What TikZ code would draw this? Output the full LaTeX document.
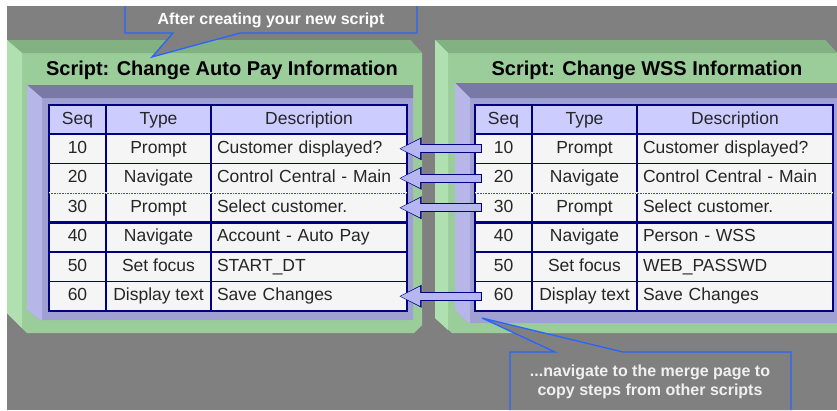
\documentclass[tikz,border=0pt]{standalone}
\usepackage{fontspec}
\setmainfont{Liberation Sans}
\usetikzlibrary{positioning,arrows.meta}

\definecolor{bggray}{RGB}{128,128,128}
\definecolor{greenface}{RGB}{155,205,155}
\definecolor{greenlight}{RGB}{176,224,176}
\definecolor{greendark}{RGB}{130,178,130}
\definecolor{purpleface}{RGB}{160,160,210}
\definecolor{purplelight}{RGB}{182,182,232}
\definecolor{purpledark}{RGB}{120,122,165}
\definecolor{headfill}{RGB}{204,204,255}
\definecolor{rowfill}{RGB}{245,245,245}
\definecolor{navy}{RGB}{0,0,128}
\definecolor{calloutblue}{RGB}{40,100,255}
\definecolor{arrowfill}{RGB}{182,182,240}

\begin{document}
\begin{tikzpicture}[x=1pt,y=-1pt,
  cell/.style={draw=navy,line width=1.4pt,fill=rowfill,inner sep=0pt,outer sep=0pt,
    minimum height=29.5pt,text height=12.5pt,text depth=3.5pt,text=black!85,
    font=\fontsize{17.5}{20}\selectfont},
  seq cell/.style={cell,minimum width=57pt},
  type cell/.style={cell,minimum width=105pt},
  desc cell/.style={cell,text width=184pt,inner xsep=6pt,align=left},
  head/.style={fill=headfill,minimum height=29pt},
  title/.style={font=\bfseries\fontsize{20}{24}\selectfont},
  callout/.style={fill=bggray,draw=calloutblue,line width=1.3pt},
  callout text/.style={font=\bfseries\fontsize{16}{19.5}\selectfont,align=center},
  copy arrow/.style={draw=arrowfill,line width=7pt,-{Triangle[length=20pt,width=18pt]},
    shorten <=0.8pt,shorten >=1.2pt,
    preaction={draw=navy,line width=8.6pt,shorten <=0pt,shorten >=0pt,
      -{Triangle[length=22.5pt,width=21pt]}}}]

  \useasboundingbox (0,0) rectangle (837,410);
  \fill[white] (0,0) rectangle (837,410);
  \fill[bggray] (7,6) rectangle (837,410);

  % left panel
  \fill[greenface] (7,40) -- (410,40) -- (422,53) -- (422,325) -- (414,333) -- (27,333) -- (7,313) -- cycle;
  \fill[greendark] (7,40) -- (410,40) -- (422,53) -- (22,53) -- cycle;
  \fill[greenlight] (7,40) -- (22,53) -- (22,328) -- (7,313) -- cycle;
  \fill[purpleface] (27,85) -- (413,85) -- (413,320) -- (40,320) -- (27,310) -- cycle;
  \fill[purpledark] (27,85) -- (413,85) -- (413,98) -- (42,98) -- cycle;
  \fill[purplelight] (27,85) -- (42,98) -- (42,320) -- (40,320) -- (27,310) -- cycle;

  % right panel
  \fill[greenface] (435,40) -- (825,40) -- (837,53) -- (837,333) -- (452,333) -- (435,318) -- cycle;
  \fill[greendark] (435,40) -- (825,40) -- (837,53) -- (448,53) -- cycle;
  \fill[greenlight] (435,40) -- (448,53) -- (448,330) -- (435,318) -- cycle;
  \fill[purpleface] (455,83) -- (837,83) -- (837,323) -- (468,323) -- (455,310) -- cycle;
  \fill[purpledark] (455,83) -- (837,83) -- (837,98) -- (470,98) -- cycle;
  \fill[purplelight] (455,83) -- (470,98) -- (470,323) -- (468,323) -- (455,310) -- cycle;

  \node[title] (atitle) at (222,70) {Script: Change Auto Pay Information};
  \node[title] (wtitle) at (647,70) {Script: Change WSS Information};

  % auto pay table
  \node[seq cell,head] (aseq0) at (77.5,119.5) {Seq};
  \node[type cell,head,right=0pt of aseq0] (atype0) {Type};
  \node[desc cell,head,align=center,right=0pt of atype0] (adesc0) {Description};
  \foreach \s/\t/\d [count=\i] in {10/Prompt/Customer displayed?,20/Navigate/Control Central - Main,
      30/Prompt/Select customer.,40/Navigate/Account - Auto Pay,50/Set focus/START\_DT,60/Display text/Save Changes}{
    \node[seq cell] (aseq\i) at (77.5,{134+29.5*(\i-0.5)}) {\s};
    \node[type cell,right=0pt of aseq\i] (atype\i) {\t};
    \node[desc cell,right=0pt of atype\i] (adesc\i) {\d};
  }

  % wss table
  \node[seq cell,head] (wseq0) at (503.5,119.5) {Seq};
  \node[type cell,head,right=0pt of wseq0] (wtype0) {Type};
  \node[desc cell,head,align=center,right=0pt of wtype0] (wdesc0) {Description};
  \foreach \s/\t/\d [count=\i] in {10/Prompt/Customer displayed?,20/Navigate/Control Central - Main,
      30/Prompt/Select customer.,40/Navigate/Person - WSS,50/Set focus/WEB\_PASSWD,60/Display text/Save Changes}{
    \node[seq cell] (wseq\i) at (503.5,{134+29.5*(\i-0.5)}) {\s};
    \node[type cell,right=0pt of wseq\i] (wtype\i) {\t};
    \node[desc cell,right=0pt of wtype\i] (wdesc\i) {\d};
  }

  \foreach \k in {a,w}{
    \draw[rowfill,line width=1.6pt] (\k seq2.south west) -- (\k desc2.south east);
    \draw[navy!70,densely dotted,line width=0.6pt] (\k seq2.south west) -- (\k desc2.south east);
    \draw[navy,line width=3pt] (\k seq3.south west) -- (\k desc3.south east);
  }

  % copied steps
  \foreach \i in {1,2,3,6}
    \draw[copy arrow] ([xshift=7pt]wseq\i.west) -- ([xshift=-8pt]adesc\i.east);

  % callouts
  \draw[callout] (125,6) -- (125,33) -- (173,33) -- (152,57) -- (240,33) -- (417,33) -- (417,6);
  \node[callout text,text=white] (aftertext) at (271,20) {After creating your new script};
  \draw[callout] (510,410) -- (510,352) -- (555,352) -- (482,318) -- (623,352) -- (791,352) -- (791,410);
  \node[callout text,text=gray!12] (navtext) at (650,382) {...navigate to the merge page to\\copy steps from other scripts};

  \fill[white] (0,0) rectangle (837,6);
  \fill[white] (0,0) rectangle (7,410);
\end{tikzpicture}
\end{document}
